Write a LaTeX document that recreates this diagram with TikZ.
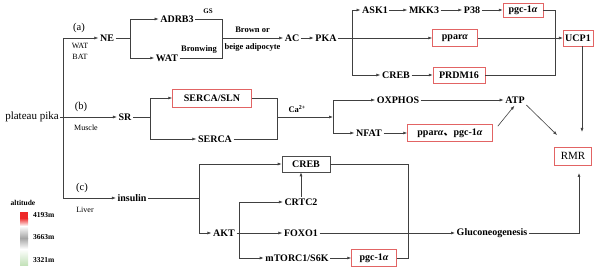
\documentclass[tikz,border=0pt]{standalone}
\usepackage{fontspec}
\setmainfont{Liberation Serif}
\newfontfamily\cjk{Noto Sans CJK SC}
\usetikzlibrary{arrows.meta}

\definecolor{altred}{RGB}{238,40,40}
\definecolor{altgray}{RGB}{165,165,165}
\definecolor{altgreen}{RGB}{196,226,186}
\definecolor{boxred}{RGB}{226,100,100}

\begin{document}
\begin{tikzpicture}[x=1pt, y=-1pt,
    lbl/.style={font=\fontsize{10}{12}\selectfont\bfseries, inner sep=1.5pt, text=black},
    rbox/.style={lbl, draw=boxred, line width=0.5pt, minimum height=16, inner sep=2pt},
    note/.style={font=\fontsize{8.5}{10}\selectfont\bfseries, inner sep=1pt, text=black},
    tag/.style={font=\fontsize{10.5}{12}\selectfont, inner sep=0pt},
    tissue/.style={font=\fontsize{8}{9}\selectfont, inner sep=0pt},
    leg/.style={font=\fontsize{7.5}{9}\selectfont\bfseries, inner sep=0pt},
    line/.style={draw=black!75, line width=0.6pt},
    arr/.style={line, -{Latex[length=4pt, width=3pt]}}]

    \useasboundingbox (0,0) rectangle (600,267);

    % Radice e tronco verticale
    \node[font=\fontsize{11}{13}\selectfont, inner sep=1pt] (pika) at (32,117) {plateau pika};
    \coordinate (ta) at (63,38);
    \coordinate (tc) at (63,198);
    \draw[line] (ta) -- (tc);

    % Ramo (a): tessuto adiposo
    \node[tag] (taga) at (79,28) {(a)};
    \node[tissue] (wat0) at (80,46) {WAT};
    \node[tissue] (bat0) at (80,57) {BAT};
    \node[lbl] (ne) at (107,38) {NE};
    \node[lbl] (adrb3) at (177,19) {ADRB3};
    \node[lbl] (wat) at (167,58) {WAT};
    \node[note, font=\fontsize{7}{8}\selectfont\bfseries] (gs) at (208,11) {GS};
    \node[note] (bronwing) at (199,49) {Bronwing};
    \node[lbl] (ac) at (292,38) {AC};
    \node[lbl] (pka) at (326,38) {PKA};
    \coordinate (s1) at (130,38);
    \coordinate (j1) at (222,38);
    \draw[arr] (ta) -- (ne);
    \draw[line] (ne) -- (s1);
    \draw[arr] (s1) |- (adrb3);
    \draw[arr] (s1) |- (wat);
    \draw[line] (adrb3) -| (j1);
    \draw[line] (wat) -| (j1);
    \draw[arr] (j1) -- (ac)
        node[note, midway, above=4pt] (brown) {Brown or}
        node[note, midway, below=4pt] (beige) {beige adipocyte};
    \draw[arr] (ac) -- (pka);

    % PKA: tre vie verso UCP1
    \node[lbl] (ask1) at (375,10) {ASK1};
    \node[lbl] (mkk3) at (424,10) {MKK3};
    \node[lbl] (p38) at (472,10) {P38};
    \node[rbox, minimum width=40, minimum height=14] (pgca) at (523,10) {pgc-1\textit{α}};
    \node[rbox, minimum width=45, minimum height=17] (ppara) at (455,38) {ppar\textit{α}};
    \node[lbl] (creba) at (396,75) {CREB};
    \node[rbox, minimum width=52] (prdm) at (459,75) {PRDM16};
    \node[rbox, minimum width=29] (ucp1) at (578,38) {UCP1};
    \coordinate (s2) at (352,38);
    \coordinate (j2) at (555,38);
    \draw[line] (pka) -- (s2);
    \draw[arr] (s2) |- (ask1);
    \draw[arr] (s2) |- (creba);
    \draw[arr] (s2) -- (ppara);
    \draw[arr] (ask1) -- (mkk3);
    \draw[arr] (mkk3) -- (p38);
    \draw[arr] (p38) -- (pgca);
    \draw[arr] (creba) -- (prdm);
    \draw[line] (pgca) -| (j2);
    \draw[line] (prdm) -| (j2);
    \draw[arr] (ppara) -- (ucp1);

    % Ramo (b): muscolo
    \node[tag] (tagb) at (81,107) {(b)};
    \node[tissue] (muscle) at (86,128) {Muscle};
    \node[lbl] (sr) at (125,117) {SR};
    \node[rbox, minimum width=79, minimum height=18] (sln) at (212,98) {SERCA/SLN};
    \node[lbl] (serca) at (215,139) {SERCA};
    \coordinate (s3) at (150,117);
    \coordinate (j3) at (277,117);
    \coordinate (s4) at (333,117);
    \draw[arr] (pika) -- (sr);
    \draw[line] (sr) -- (s3);
    \draw[arr] (s3) |- (sln);
    \draw[arr] (s3) |- (serca);
    \draw[line] (sln) -| (j3);
    \draw[line] (serca) -| (j3);
    \draw[arr] (j3) -- (s4) node[note, pos=0.36, above=3pt] (ca) {Ca\textsuperscript{2+}};

    \node[lbl] (oxphos) at (398,100) {OXPHOS};
    \node[lbl] (atp) at (515,100) {ATP};
    \node[lbl] (nfat) at (369,133) {NFAT};
    \node[rbox, minimum width=85, minimum height=17] (pgcb) at (450,133) {ppar\textit{α}{\cjk 、}pgc-1\textit{α}};
    \node[rbox, font=\fontsize{11}{13}\selectfont, minimum width=37, minimum height=18] (rmr) at (573,156) {RMR};
    \coordinate (rmra) at (582,132);
    \coordinate (rmrb) at (557,135);
    \draw[arr] (s4) |- (oxphos);
    \draw[arr] (s4) |- (nfat);
    \draw[arr] (oxphos) -- (atp);
    \draw[arr] (nfat) -- (pgcb);
    \draw[arr, shorten >=1pt] ([xshift=5pt, yshift=-2pt]pgcb.north east) -- (atp.south);
    \draw[arr] (atp.south east) -- (rmrb);
    \draw[arr] (ucp1.south -| rmra) -- (rmra);

    % Ramo (c): fegato
    \node[tag] (tagc) at (82,188) {(c)};
    \node[tissue] (liver) at (85,210) {Liver};
    \node[lbl] (insulin) at (132,198) {insulin};
    \node[lbl, draw=black!70, line width=0.6pt, minimum width=48, minimum height=16] (crebb) at (306,164) {CREB};
    \node[lbl] (akt) at (224,233) {AKT};
    \node[lbl] (crtc2) at (301,202) {CRTC2};
    \node[lbl] (foxo1) at (301,233) {FOXO1};
    \node[lbl] (mtorc) at (297,258) {mTORC1/S6K};
    \node[rbox, minimum width=45, minimum height=17] (pgcc) at (374,258) {pgc-1\textit{α}};
    \node[lbl] (gluco) at (492,233) {Gluconeogenesis};
    \coordinate (s5) at (199,198);
    \coordinate (s6) at (239,233);
    \coordinate (j4) at (408,258);
    \coordinate (rmrc) at (579,173);
    \draw[arr] (tc) -- (insulin);
    \draw[line] (insulin) -- (s5);
    \draw[arr] (s5) |- (crebb);
    \draw[arr] (s5) |- (akt);
    \draw[line] (akt) -- (s6);
    \draw[arr] (s6) |- (crtc2);
    \draw[arr] (s6) -- (foxo1);
    \draw[arr] (s6) |- (mtorc);
    \draw[arr] (crtc2.north) -- (crtc2.north |- crebb.south);
    \draw[arr] (mtorc) -- (pgcc);
    \draw[arr] (foxo1) -- (gluco);
    \draw[arr] (gluco) -| (rmrc);
    \draw[line] (pgcc) -- (j4) |- (crebb);

    % Legenda altitudine
    \node[leg] (altlbl) at (23,203) {altitude};
    \fill[altred] (20,212) rectangle (28,218);
    \shade[top color=altred, bottom color=white] (20,218) rectangle (28,226);
    \shade[top color=white, bottom color=altgray] (20,226) rectangle (28,238);
    \shade[top color=altgray, bottom color=white] (20,238) rectangle (28,249);
    \shade[top color=white, bottom color=altgreen] (20,249) rectangle (28,265);
    \node[leg, anchor=west] (h1) at (33,215) {4193m};
    \node[leg, anchor=west] (h2) at (33,237) {3663m};
    \node[leg, anchor=west] (h3) at (33,260) {3321m};

\end{tikzpicture}
\end{document}
